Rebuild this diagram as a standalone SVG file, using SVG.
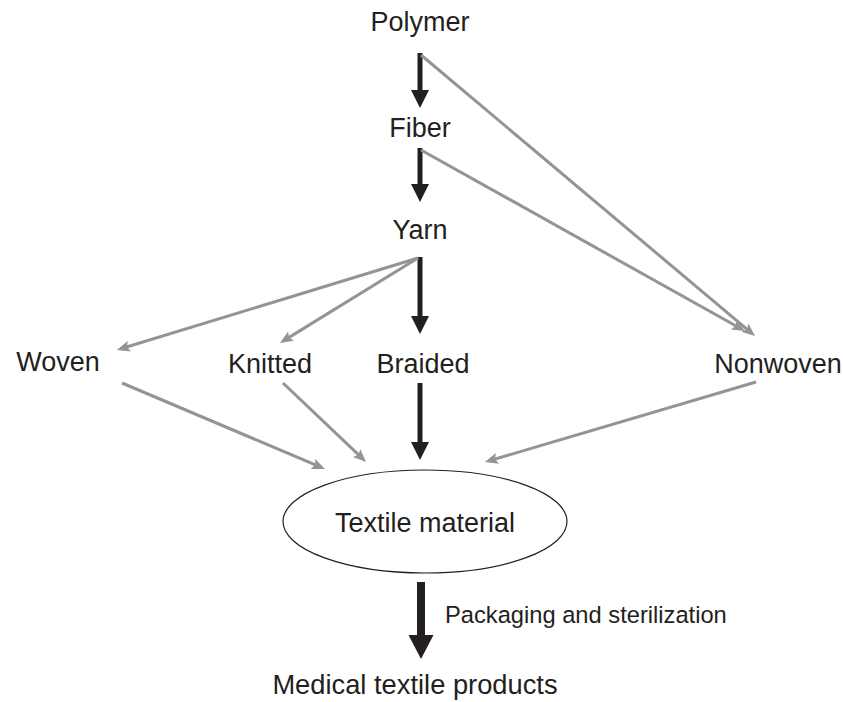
<svg xmlns="http://www.w3.org/2000/svg" width="843" height="702" viewBox="0 0 843 702">
<style>
.lbl{font-family:"Liberation Sans",Arial,sans-serif;font-size:27px;fill:#231f20;text-anchor:middle}
.small{font-family:"Liberation Sans",Arial,sans-serif;font-size:23.7px;fill:#231f20}
.blk{stroke:#231f20;stroke-width:5;fill:none}
.blkbig{stroke:#231f20;stroke-width:8;fill:none}
.gry{stroke:#929497;stroke-width:3;fill:none}
</style>
<defs>
<marker id="hb" viewBox="0 -9 18 18" refX="1" refY="0" markerWidth="18" markerHeight="18" markerUnits="userSpaceOnUse" orient="auto">
<path d="M0,-9 L18,0 L0,9 z" fill="#231f20"/>
</marker>
<marker id="hbb" viewBox="0 -12.5 24 25" refX="1" refY="0" markerWidth="24" markerHeight="25" markerUnits="userSpaceOnUse" orient="auto">
<path d="M0,-12.5 L24,0 L0,12.5 z" fill="#231f20"/>
</marker>
<marker id="hg" viewBox="0 -5.5 13 11" refX="9" refY="0" markerWidth="13" markerHeight="11" markerUnits="userSpaceOnUse" orient="auto">
<path d="M0,-5.5 L13,0 L0,5.5 L2.5,0 z" fill="#929497"/>
</marker>
</defs>
<g id="connectors">
<line class="blk" x1="420" y1="53" x2="420" y2="91" marker-end="url(#hb)"/>
<line class="blk" x1="420" y1="148" x2="420" y2="185" marker-end="url(#hb)"/>
<line class="blk" x1="420" y1="257" x2="420" y2="317" marker-end="url(#hb)"/>
<line class="blk" x1="420" y1="383" x2="420" y2="443" marker-end="url(#hb)"/>
<line class="blkbig" x1="421" y1="582" x2="421" y2="636" marker-end="url(#hbb)"/>
<line class="gry" x1="421" y1="55" x2="751.9" y2="333.4" marker-end="url(#hg)"/>
<line class="gry" x1="421" y1="150" x2="741.5" y2="329" marker-end="url(#hg)"/>
<line class="gry" x1="418" y1="258" x2="120.8" y2="348.8" marker-end="url(#hg)"/>
<line class="gry" x1="418" y1="258" x2="283.4" y2="340.9" marker-end="url(#hg)"/>
<line class="gry" x1="122" y1="383" x2="321.3" y2="467.4" marker-end="url(#hg)"/>
<line class="gry" x1="283" y1="383" x2="363.1" y2="459.2" marker-end="url(#hg)"/>
<line class="gry" x1="756" y1="382" x2="488.8" y2="460.9" marker-end="url(#hg)"/>
<text class="small" x="445" y="623">Packaging and sterilization</text>
</g>
<g id="polymer"><text class="lbl" x="420" y="31">Polymer</text></g>
<g id="fiber"><text class="lbl" x="420" y="137">Fiber</text></g>
<g id="yarn"><text class="lbl" x="420" y="239">Yarn</text></g>
<g id="woven"><text class="lbl" x="58" y="371">Woven</text></g>
<g id="knitted"><text class="lbl" x="270" y="373">Knitted</text></g>
<g id="braided"><text class="lbl" x="423" y="373">Braided</text></g>
<g id="nonwoven"><text class="lbl" x="778" y="373">Nonwoven</text></g>
<g id="textile">
<ellipse cx="425" cy="521.5" rx="142" ry="51.5" fill="none" stroke="#231f20" stroke-width="1.2"/>
<text class="lbl" x="425" y="532">Textile material</text>
</g>
<g id="medical"><text class="lbl" x="415" y="694" style="font-size:27.3px">Medical textile products</text></g>
</svg>
